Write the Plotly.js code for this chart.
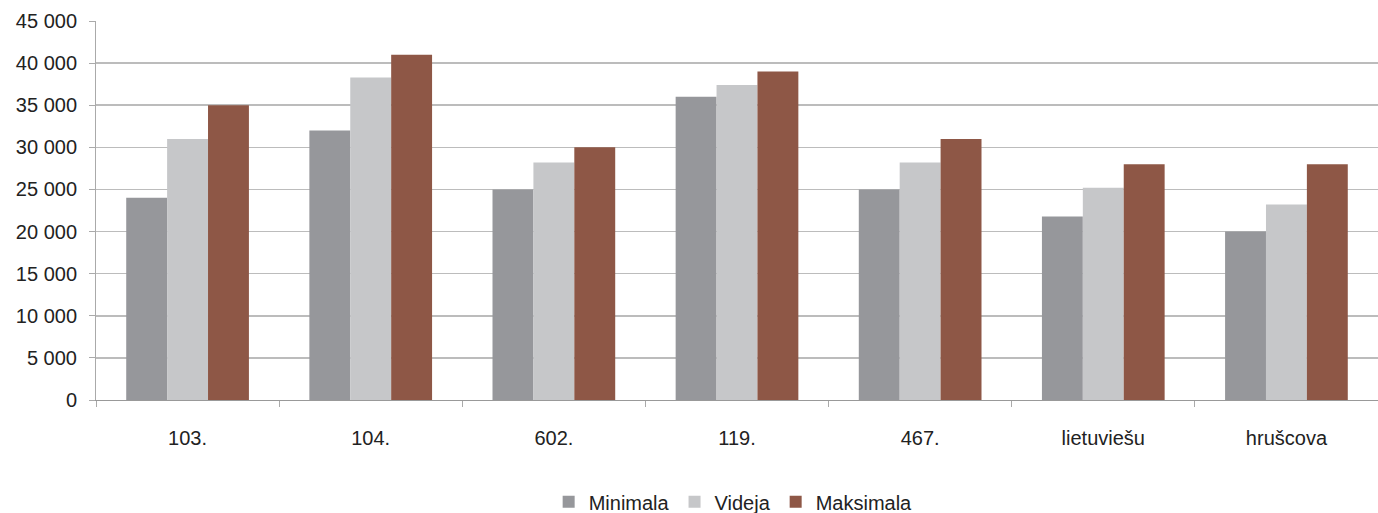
<!DOCTYPE html>
<html>
<head>
<meta charset="utf-8">
<script src="https://cdn.plot.ly/plotly-3.0.1.min.js"></script>
<style>html,body{margin:0;padding:0;overflow:hidden;background:#fff}</style>
</head>
<body>
<div id="chart" style="width:1378px;height:513px"></div>
<script>
const categories = ["103.", "104.", "602.", "119.", "467.", "lietuviešu", "hrušcova"];
const minimala = [24000, 32000, 25000, 36000, 25000, 21800, 20000];
const videja = [31000, 38300, 28200, 37400, 28200, 25200, 23200];
const maksimala = [35000, 41000, 30000, 39000, 31000, 28000, 28000];
const seriesNames = ["Minimala", "Videja", "Maksimala"];
const seriesColors = ["#96979b", "#c6c7c9", "#8e5746"];

const seriesValues = [minimala, videja, maksimala];
const traces = seriesValues.map((vals, i) => ({
  type: "bar",
  x: categories,
  y: vals,
  name: seriesNames[i],
  marker: {color: seriesColors[i], line: {width: 0}},
  hoverinfo: "x+y+name"
}));

const layout = {
  width: 1378,
  height: 513,
  margin: {l: 96, r: 0, t: 21, b: 113, autoexpand: false},
  paper_bgcolor: "#ffffff",
  plot_bgcolor: "#ffffff",
  separators: ". ",
  font: {family: "Liberation Sans, Arial, sans-serif", size: 20, color: "#222222"},
  barmode: "group",
  bargap: 0.33,
  bargroupgap: 0,
  showlegend: true,
  legend: {
    orientation: "h",
    x: 0.497, xanchor: "center",
    yref: "container",
    y: 0.022, yanchor: "middle",
    font: {size: 20, color: "#222222"},
    itemwidth: 30,
    traceorder: "normal"
  },
  xaxis: {
    type: "category",
    showgrid: false,
    showline: true,
    linecolor: "#999999",
    linewidth: 1,
    ticks: "outside",
    tickson: "boundaries",
    ticklen: 6,
    tickcolor: "#aaaaaa",
    ticklabelstandoff: 20,
    tickfont: {size: 20, color: "#222222"},
    zeroline: false
  },
  yaxis: {
    range: [0, 45000],
    dtick: 5000,
    tick0: 0,
    tickformat: ",d",
    showgrid: true,
    gridcolor: "#bcbcbc",
    gridwidth: 1.5,
    showline: true,
    linecolor: "#aaaaaa",
    linewidth: 1,
    ticks: "outside",
    ticklen: 6,
    tickcolor: "#aaaaaa",
    ticklabelstandoff: 8,
    tickfont: {size: 20, color: "#222222"},
    zeroline: false
  }
};

Plotly.newPlot("chart", traces, layout, {displayModeBar: false, staticPlot: true});
</script>
</body>
</html>
